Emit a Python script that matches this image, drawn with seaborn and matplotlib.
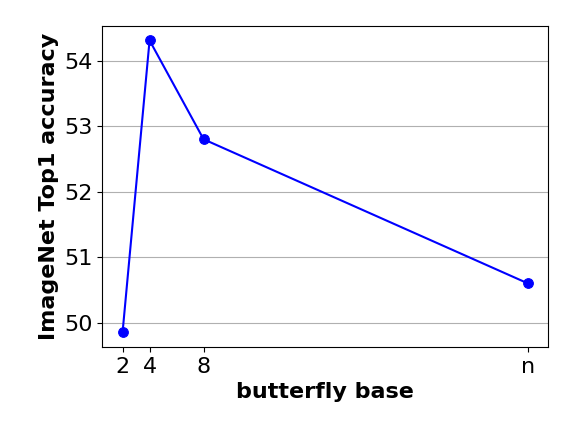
import pandas as pd
import matplotlib
matplotlib.use('Agg')
import matplotlib.pyplot as plt
import seaborn as sns

# butterfly base values, "n" plotted at 32
base_pos = [2, 4, 8, 32]
base_labels = ['2', '4', '8', 'n']
top1 = [49.85, 54.31, 52.8, 50.6]

plt.rcParams['font.family'] = ['DejaVu Sans']

df = pd.DataFrame({'base': base_pos, 'acc': top1})

fig, ax = plt.subplots(figsize=(5.78, 4.30), dpi=100)
sns.lineplot(x='base', y='acc', data=df, ax=ax, color='blue', marker='o',
             markersize=7, markeredgecolor='blue', linewidth=1.5)
ax.set_xticks(base_pos)
ax.set_xticklabels(base_labels)
ax.tick_params(labelsize=16)
ax.set_xlabel('butterfly base', fontsize=16, fontweight='bold')
ax.set_ylabel('ImageNet Top1 accuracy', fontsize=16, fontweight='bold')
ax.yaxis.grid(True, color='#b0b0b0', linewidth=0.8)
ax.xaxis.grid(False)
fig.subplots_adjust(left=0.177, right=0.948, top=0.94, bottom=0.193)
plt.savefig('out.png', dpi=100)
